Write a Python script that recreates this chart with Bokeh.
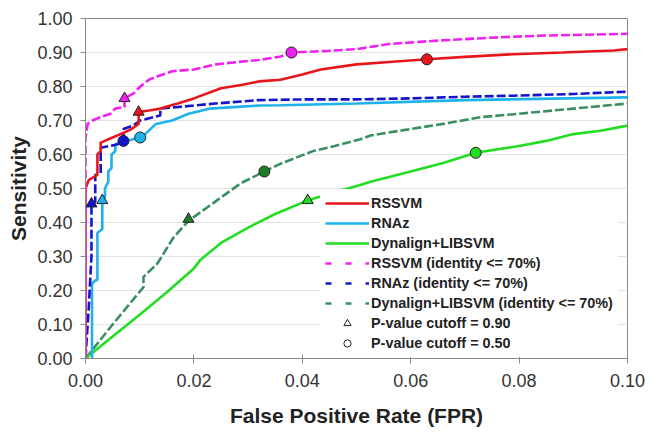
from bokeh.plotting import figure
from bokeh.models import Legend, LegendItem, Range1d, FixedTicker, NumeralTickFormatter
from bokeh.embed import file_html
from bokeh.resources import INLINE

# ---- data ----
rssvm_x = [0, 0, 0.0006, 0.0022, 0.0022, 0.0028, 0.0028, 0.005, 0.0072, 0.0085, 0.0098, 0.0098, 0.012, 0.0138,
           0.017, 0.02, 0.025, 0.029, 0.032, 0.036, 0.04, 0.0434, 0.05, 0.056, 0.063, 0.07, 0.079, 0.088, 0.0975, 0.1]
rssvm_y = [0, 0.50, 0.525, 0.54, 0.60, 0.61, 0.635, 0.65, 0.665, 0.675, 0.69, 0.725, 0.73, 0.735,
           0.75, 0.765, 0.795, 0.805, 0.815, 0.82, 0.835, 0.85, 0.865, 0.872, 0.88, 0.887, 0.895, 0.90, 0.906, 0.91]

rnaz_x = [0.0012, 0.0012, 0.0018, 0.0022, 0.0022, 0.0031, 0.0031, 0.0036, 0.0036, 0.0042, 0.0042, 0.0048, 0.0048,
          0.0055, 0.0055, 0.0075, 0.010, 0.011, 0.013, 0.016, 0.019, 0.023, 0.028, 0.032, 0.036, 0.05, 0.07, 0.1]
rnaz_y = [0, 0.22, 0.23, 0.23, 0.37, 0.38, 0.465, 0.475, 0.50, 0.52, 0.55, 0.56, 0.60,
          0.61, 0.63, 0.64, 0.65, 0.66, 0.69, 0.70, 0.72, 0.735, 0.74, 0.744, 0.745, 0.75, 0.76, 0.768]

dyn_x = [0, 0.005, 0.0101, 0.015, 0.02, 0.0212, 0.025, 0.030, 0.035, 0.041, 0.046, 0.0507, 0.0526,
         0.06, 0.066, 0.072, 0.08, 0.085, 0.09, 0.095, 0.1]
dyn_y = [0, 0.065, 0.13, 0.195, 0.265, 0.29, 0.34, 0.385, 0.425, 0.465, 0.49, 0.51, 0.52,
         0.55, 0.575, 0.605, 0.625, 0.64, 0.66, 0.67, 0.685]

rssvm70_x = [0, 0, 0.0004, 0.0013, 0.0028, 0.0046, 0.0055, 0.0072, 0.0072, 0.0089, 0.0101, 0.0117, 0.0133, 0.016,
             0.02, 0.024, 0.028, 0.032, 0.036, 0.038, 0.045, 0.05, 0.056, 0.065, 0.0766, 0.085, 0.1]
rssvm70_y = [0, 0.65, 0.69, 0.70, 0.71, 0.72, 0.735, 0.74, 0.765, 0.78, 0.80, 0.82, 0.83, 0.845,
             0.85, 0.865, 0.872, 0.878, 0.888, 0.90, 0.905, 0.91, 0.925, 0.935, 0.945, 0.95, 0.955]

rnaz70_x = [0, 0.0006, 0.0011, 0.0011, 0.0018, 0.0018, 0.0028, 0.0028, 0.006, 0.007, 0.007, 0.0088, 0.0101,
            0.0138, 0.0138, 0.02, 0.024, 0.032, 0.04, 0.05, 0.06, 0.07, 0.079, 0.09, 0.0975, 0.1]
rnaz70_y = [0, 0.15, 0.30, 0.455, 0.46, 0.54, 0.545, 0.62, 0.63, 0.645, 0.675, 0.685, 0.70,
            0.715, 0.735, 0.744, 0.75, 0.76, 0.762, 0.762, 0.765, 0.77, 0.773, 0.778, 0.783, 0.785]

dyn70_x = [0, 0.005, 0.0107, 0.0107, 0.0133, 0.0162, 0.019, 0.0225, 0.0286, 0.033, 0.036, 0.042, 0.046,
           0.0507, 0.0526, 0.06, 0.066, 0.073, 0.08, 0.09, 0.1]
dyn70_y = [0, 0.10, 0.21, 0.24, 0.28, 0.355, 0.405, 0.445, 0.515, 0.55, 0.573, 0.61, 0.625,
           0.645, 0.656, 0.675, 0.69, 0.71, 0.72, 0.735, 0.75]

tri_x = [0.0098, 0.0072, 0.0031, 0.0011, 0.019, 0.041]
tri_y = [0.725, 0.765, 0.465, 0.455, 0.41, 0.465]
circ_x = [0.063, 0.038, 0.0101, 0.007, 0.033, 0.072]
circ_y = [0.88, 0.90, 0.65, 0.64, 0.55, 0.605]

x_ticks = [0.0, 0.02, 0.04, 0.06, 0.08, 0.10]
y_ticks = [0.0, 0.1, 0.2, 0.3, 0.4, 0.5, 0.6, 0.7, 0.8, 0.9, 1.0]

RED = "#E8161B"
LBLUE = "#1DB2EA"
LIME = "#22DD22"
MAG = "#F020F0"
DBLUE = "#1414CC"
TEAL = "#3A8F62"
marker_colors = [RED, MAG, LBLUE, DBLUE, "#1F7A2A", LIME]

FONT = "Liberation Sans"

p = figure(width=649, height=432, output_backend="svg", toolbar_location=None,
           x_range=Range1d(0, 0.1), y_range=Range1d(0, 1.0),
           min_border_left=85, min_border_right=22, min_border_top=18, min_border_bottom=74)

p.outline_line_color = "#8a8a8a"
p.xgrid.grid_line_color = None
p.ygrid.grid_line_color = "#e2e2e2"
p.ygrid.grid_line_width = 1

for ax in (p.xaxis[0], p.yaxis[0]):
    ax.axis_line_color = "#8a8a8a"
    ax.major_tick_line_color = "#8a8a8a"
    ax.minor_tick_line_color = None
    ax.major_label_text_font = FONT
    ax.major_label_text_font_size = "18px"
    ax.major_label_text_color = "#333333"
    ax.axis_label_text_font = FONT
    ax.axis_label_text_font_style = "bold"
    ax.axis_label_text_font_size = "21px"
    ax.axis_label_text_color = "#222222"
    ax.formatter = NumeralTickFormatter(format="0.00")

p.xaxis.ticker = FixedTicker(ticks=x_ticks)
p.yaxis.ticker = FixedTicker(ticks=y_ticks)
p.xaxis.major_tick_in = 4
p.xaxis.major_tick_out = 5
p.yaxis.major_tick_in = 0
p.yaxis.major_tick_out = 5
p.xaxis.major_label_standoff = 10
p.yaxis.major_label_standoff = 8
p.xaxis.axis_label = "False Positive Rate (FPR)"
p.yaxis.axis_label = "Sensitivity"
p.xaxis.axis_label_standoff = 14
p.yaxis.axis_label_standoff = 4

LW = 2.6
DASH = "9 3"
p.line(dyn70_x, dyn70_y, color=TEAL, line_width=LW, line_dash=DASH)
p.line(dyn_x, dyn_y, color=LIME, line_width=LW)
p.line(rnaz_x, rnaz_y, color=LBLUE, line_width=LW)
p.line(rnaz70_x, rnaz70_y, color=DBLUE, line_width=LW, line_dash=DASH)
p.line(rssvm_x, rssvm_y, color=RED, line_width=LW)
p.line(rssvm70_x, rssvm70_y, color=MAG, line_width=LW, line_dash=DASH)

p.scatter(tri_x, tri_y, marker="triangle", size=11, fill_color=marker_colors, line_color="#222222", line_width=1)
p.scatter(circ_x, circ_y, marker="circle", size=11, fill_color=marker_colors, line_color="#222222", line_width=1)

# legend-only glyphs (placed outside the visible ranges)
LDASH = "6 14"
ox, oy = [-1, -1], [-1, -1]
g1 = p.line(ox, oy, color=RED, line_width=LW)
g2 = p.line(ox, oy, color=LBLUE, line_width=LW)
g3 = p.line(ox, oy, color=LIME, line_width=LW)
g4 = p.line(ox, oy, color=MAG, line_width=LW, line_dash=LDASH)
g5 = p.line(ox, oy, color=DBLUE, line_width=LW, line_dash=LDASH)
g6 = p.line(ox, oy, color=TEAL, line_width=LW, line_dash=LDASH)
g7 = p.scatter(ox, oy, marker="triangle", size=9, fill_color="white", line_color="#222222", line_width=1)
g8 = p.scatter(ox, oy, marker="circle", size=8, fill_color="white", line_color="#222222", line_width=1)

labels = ["RSSVM", "RNAz", "Dynalign+LIBSVM", "RSSVM (identity <= 70%)", "RNAz (identity <= 70%)",
          "Dynalign+LIBSVM (identity <= 70%)", "P-value cutoff = 0.90", "P-value cutoff = 0.50"]
items = [LegendItem(label=l, renderers=[g]) for l, g in zip(labels, [g1, g2, g3, g4, g5, g6, g7, g8])]
legend = Legend(items=items, location=(235, 1), padding=5, spacing=2, margin=0,
                glyph_width=44, glyph_height=18, label_height=18, label_standoff=2,
                label_text_font=FONT, label_text_font_style="bold", label_text_font_size="14.4px",
                label_text_color="#222222",
                border_line_alpha=0, background_fill_color="white", background_fill_alpha=1)
p.add_layout(legend)

open("out.html", "w").write(file_html(p, INLINE))
